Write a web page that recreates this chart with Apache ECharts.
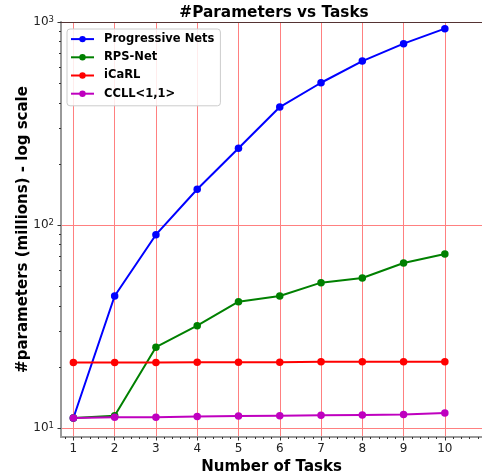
<!DOCTYPE html>
<html>
<head>
<meta charset="utf-8">
<script src="https://cdn.jsdelivr.net/npm/echarts@6/dist/echarts.min.js"></script>
<style>html,body{margin:0;padding:0;background:#fff}#c{width:482px;height:473px}</style>
</head>
<body>
<div id="c"></div>
<script>
const tasks = [1, 2, 3, 4, 5, 6, 7, 8, 9, 10];
const progressiveNets = [11.2, 44.7, 89.6, 150, 239, 381, 502, 642, 782, 927];
const rpsNet = [11.2, 11.5, 25.0, 31.9, 41.9, 44.7, 52.0, 54.8, 65.0, 71.9];
const icarl = [21.0, 21.0, 21.0, 21.1, 21.1, 21.1, 21.2, 21.2, 21.2, 21.2];
const ccll = [11.2, 11.3, 11.3, 11.4, 11.45, 11.5, 11.55, 11.6, 11.65, 11.85];
const seriesNames = ['Progressive Nets', 'RPS-Net', 'iCaRL', 'CCLL<1,1>'];
const seriesColors = ['#0000ff', '#008000', '#ff0000', '#bf00bf'];
const yMajor = [10, 100, 1000];

const yMinor = [];
[10, 100].forEach(function (d) { for (let k = 2; k <= 9; k++) yMinor.push(d * k); });
const xMinor = [];
for (let i = 4; i <= 54; i++) { if (i % 5 !== 0) xMinor.push(+(i * 0.2).toFixed(1)); }

const allValues = [progressiveNets, rpsNet, icarl, ccll];
const font = 'DejaVu Sans';
const XMIN = 0.7, XMAX = 10.9, YMIN = 9.03, YMAX = 1000;

const chart = echarts.init(document.getElementById('c'), null, {renderer: 'canvas'});
chart.setOption({
  animation: false,
  backgroundColor: '#ffffff',
  title: {
    text: '#Parameters vs Tasks',
    left: 269, top: 1, textAlign: 'center',
    textStyle: {fontFamily: font, fontSize: 15.3, fontWeight: 'bold', color: '#000'}
  },
  legend: {
    orient: 'vertical', left: 67, top: 29,
    backgroundColor: 'rgba(255,255,255,0.85)', borderColor: '#cccccc', borderWidth: 1, borderRadius: 3,
    padding: [3, 6, 5, 3],
    itemWidth: 23, itemHeight: 8, itemGap: 4,
    textStyle: {fontFamily: font, fontSize: 11.5, fontWeight: 'bold', color: '#000', lineHeight: 14.2, padding: [0, 0, 0, 5]},
    data: seriesNames
  },
  grid: {left: 61, right: 0, top: 22, bottom: 36, containLabel: false, outerBoundsMode: 'none'},
  xAxis: [
    {
      type: 'value', min: XMIN, max: XMAX, position: 'bottom',
      name: 'Number of Tasks', nameLocation: 'middle', nameGap: 23, nameMoveOverlap: false,
      nameTextStyle: {fontFamily: font, fontSize: 15, fontWeight: 'bold', color: '#000'},
      axisLine: {show: true, lineStyle: {color: '#999999', width: 2}},
      axisTick: {show: true, customValues: tasks, length: 3.5, lineStyle: {color: '#333'}},
      axisLabel: {customValues: tasks, margin: 6, fontFamily: font, fontSize: 12, color: '#222'},
      splitLine: {show: true, lineStyle: {color: '#ff8080', width: 1}}
    },
    {
      type: 'value', min: XMIN, max: XMAX, position: 'bottom',
      axisLine: {show: false},
      axisTick: {show: true, customValues: xMinor, length: 2, lineStyle: {color: '#333'}},
      axisLabel: {show: false},
      splitLine: {show: false}
    },
    {
      type: 'value', min: XMIN, max: XMAX, position: 'top',
      axisLine: {show: true, onZero: false, lineStyle: {color: '#553333', width: 1}},
      axisTick: {show: false}, axisLabel: {show: false}, splitLine: {show: false}
    }
  ],
  yAxis: [
    {
      type: 'log', logBase: 10, min: YMIN, max: YMAX, position: 'left',
      name: '#parameters (millions) - log scale', nameLocation: 'middle', nameGap: 30, nameMoveOverlap: false,
      nameTextStyle: {fontFamily: font, fontSize: 15, fontWeight: 'bold', color: '#000'},
      axisLine: {show: true, onZero: false, lineStyle: {color: '#999999', width: 2}},
      axisTick: {show: true, customValues: yMajor, length: 3.5, lineStyle: {color: '#333'}},
      axisLabel: {
        customValues: yMajor, margin: 7, color: '#222',
        formatter: function (v) { return '{b|10}{s|' + Math.round(Math.log10(v)) + '}'; },
        rich: {
          b: {fontFamily: font, fontSize: 12, color: '#222'},
          s: {fontFamily: font, fontSize: 8.5, color: '#222', verticalAlign: 'top', padding: [0, 0, 5, 0]}
        }
      },
      splitLine: {show: true, lineStyle: {color: '#ff8080', width: 1}}
    },
    {
      type: 'log', logBase: 10, min: YMIN, max: YMAX, position: 'left',
      axisLine: {show: false},
      axisTick: {show: true, customValues: yMinor, length: 2, lineStyle: {color: '#333'}},
      axisLabel: {show: false},
      splitLine: {show: false}
    }
  ],
  series: seriesNames.map(function (name, i) {
    return {
      name: name, type: 'line', xAxisIndex: 0, yAxisIndex: 0,
      symbol: 'circle', symbolSize: 7.5,
      color: seriesColors[i],
      lineStyle: {width: 2, color: seriesColors[i]},
      itemStyle: {color: seriesColors[i]},
      data: tasks.map(function (t, j) { return [t, allValues[i][j]]; })
    };
  })
});
</script>
</body>
</html>
